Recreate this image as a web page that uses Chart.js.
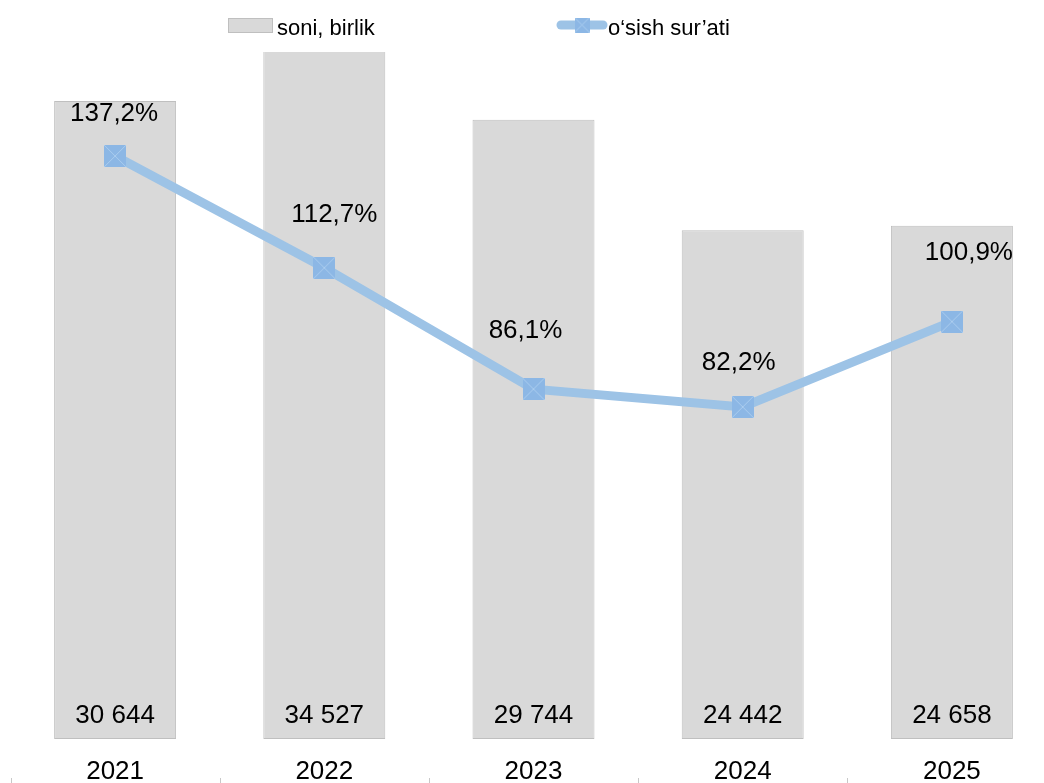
<!DOCTYPE html>
<html>
<head>
<meta charset="utf-8">
<script src="https://cdn.jsdelivr.net/npm/chart.js@4.4.1/dist/chart.umd.min.js"></script>
<style>
body { margin: 0; overflow: hidden; background: #fff; }
canvas { display: block; }
</style>
</head>
<body>
<canvas id="myChart" width="1070" height="783"></canvas>
<script>
const years = ["2021", "2022", "2023", "2024", "2025"]
const soni = [30644, 34527, 29744, 24442, 24658]
const osish = [137.2, 112.7, 86.1, 82.2, 100.9]
const barTitle = "soni, birlik"
const lineTitle = "o‘sish sur’ati"

const fontName = "'Liberation Sans', Arial, sans-serif"
const barColor = "#d9d9d9"
const barBorder = "#bfbfbf"
const lineColor = "#9dc3e6"
const markerColor = "#8cb7e5"

// square marker with a light cross inside
function makeMarker(size) {
    const c = document.createElement("canvas")
    c.width = size
    c.height = size
    const g = c.getContext("2d")
    g.fillStyle = markerColor
    g.fillRect(0, 0, size, size)
    g.strokeStyle = "#abcdef"
    g.lineWidth = 1
    g.beginPath()
    g.moveTo(0, 0)
    g.lineTo(size, size)
    g.moveTo(size, 0)
    g.lineTo(0, size)
    g.stroke()
    return c
}

const bigMarker = makeMarker(22)
const smallMarker = makeMarker(15)

function formatSoni(v) {
    return String(v).replace(/\B(?=(\d{3})+(?!\d))/g, " ")
}

function formatPercent(v) {
    return v.toFixed(1).replace(".", ",") + "%"
}

// hand placed label offsets, like the original
const lineLabelOffsets = [[-1, -35], [10, -46], [-8, -51], [-4, -37], [17, -62]]

const labelsPlugin = {
    id: "labelsPlugin",
    afterDatasetsDraw(chart) {
        const ctx = chart.ctx
        ctx.save()
        ctx.font = "26px " + fontName
        ctx.fillStyle = "#000"
        ctx.textAlign = "center"
        ctx.textBaseline = "alphabetic"

        const bars = chart.getDatasetMeta(0).data
        bars.forEach((bar, i) => {
            ctx.fillText(formatSoni(soni[i]), bar.x, bar.base - 16)
        })

        const points = chart.getDatasetMeta(1).data
        points.forEach((pt, i) => {
            const off = lineLabelOffsets[i]
            ctx.fillText(formatPercent(osish[i]), pt.x + off[0], pt.y + off[1])
        })

        // small tick marks between categories
        const xScale = chart.scales.x
        const step = xScale.getPixelForValue(1) - xScale.getPixelForValue(0)
        ctx.strokeStyle = "#c8c8c8"
        ctx.lineWidth = 1
        for (let i = 0; i <= years.length; i++) {
            const x = Math.round(xScale.getPixelForValue(0) - step / 2 + i * step) + 0.5
            ctx.beginPath()
            ctx.moveTo(x, 778)
            ctx.lineTo(x, 783)
            ctx.stroke()
        }
        ctx.restore()
    }
}

const legendPlugin = {
    id: "legendPlugin",
    afterDraw(chart) {
        const ctx = chart.ctx
        ctx.save()
        ctx.font = "22px " + fontName
        ctx.textAlign = "left"
        ctx.textBaseline = "alphabetic"

        ctx.fillStyle = barColor
        ctx.fillRect(228.5, 18.5, 44, 14)
        ctx.strokeStyle = barBorder
        ctx.lineWidth = 1
        ctx.strokeRect(228.5, 18.5, 44, 14)
        ctx.fillStyle = "#000"
        ctx.fillText(barTitle, 277, 35)

        ctx.strokeStyle = lineColor
        ctx.lineWidth = 9
        ctx.lineCap = "round"
        ctx.beginPath()
        ctx.moveTo(561, 25)
        ctx.lineTo(603, 25)
        ctx.stroke()
        ctx.drawImage(smallMarker, 582 - 7.5, 25 - 7.5)
        ctx.fillText(lineTitle, 608, 35)
        ctx.restore()
    }
}

const config = {
    data: {
        labels: years,
        datasets: [
            {
                type: "bar",
                label: barTitle,
                data: soni,
                backgroundColor: barColor,
                borderColor: barBorder,
                borderWidth: 1,
                borderSkipped: false,
                barPercentage: 0.583,
                categoryPercentage: 1,
                yAxisID: "y",
                order: 2
            },
            {
                type: "line",
                label: lineTitle,
                data: osish,
                borderColor: lineColor,
                borderWidth: 9,
                pointStyle: bigMarker,
                pointRadius: 11,
                pointHoverRadius: 11,
                tension: 0,
                yAxisID: "y2",
                order: 1
            }
        ]
    },
    options: {
        responsive: false,
        animation: false,
        layout: {
            autoPadding: false,
            padding: { left: 10.5, right: 13.5, top: 52, bottom: 0 }
        },
        plugins: {
            legend: { display: false },
            tooltip: { enabled: false }
        },
        scales: {
            x: {
                offset: true,
                grid: { display: false, drawTicks: false },
                border: { display: false },
                ticks: {
                    color: "#000",
                    font: { family: fontName, size: 26 },
                    padding: 17,
                    maxRotation: 0
                },
                afterFit(scale) {
                    scale.height = 44
                    scale.paddingLeft = 0
                    scale.paddingRight = 0
                }
            },
            y: {
                display: false,
                min: 0,
                max: 33000
            },
            y2: {
                display: false,
                position: "right",
                min: 9.4,
                max: 160
            }
        }
    },
    plugins: [labelsPlugin, legendPlugin]
}

const chartDOM = document.getElementById("myChart")
const myChart = new Chart(chartDOM, config)
</script>
</body>
</html>
